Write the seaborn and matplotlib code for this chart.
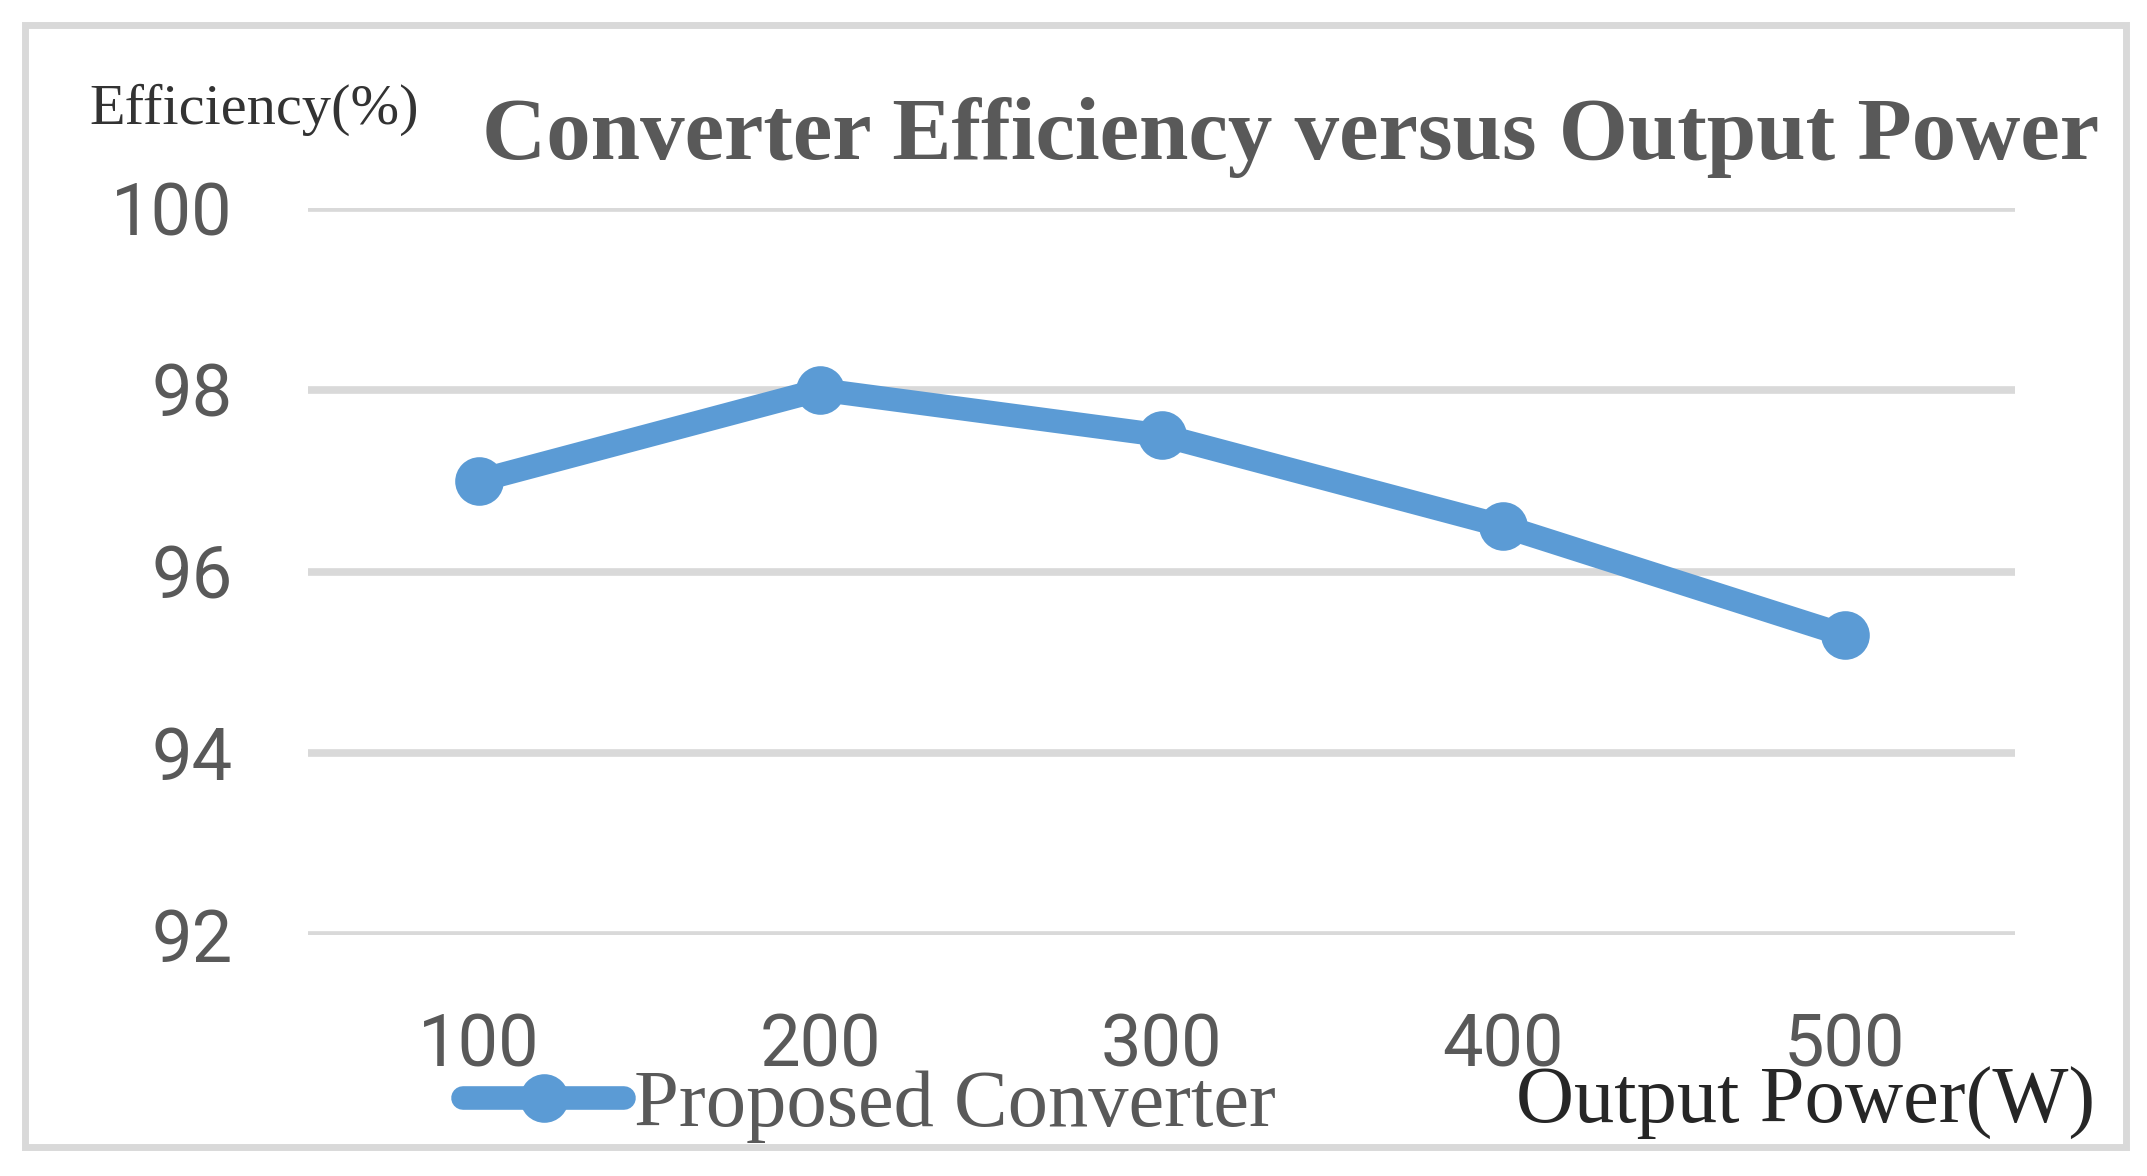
#!/usr/bin/env python3
"""
Converter efficiency versus output power, drawn with seaborn.
Saves the chart as out.png.
"""

import pandas as pd
import seaborn as sns
import matplotlib

matplotlib.use("Agg")
import matplotlib.pyplot as plt
from matplotlib.patches import Rectangle

# Data
output_power = [100, 200, 300, 400, 500]
efficiency = [97.0, 98.0, 97.5, 96.5, 95.3]
y_ticks = [92, 94, 96, 98, 100]
series_name = "Proposed Converter"

LINE_BLUE = "#5B9BD5"
GRID_GRAY = "#D9D9D9"
TEXT_GRAY = "#595959"


def main():
    sns.set_theme(style="white")
    plt.rcParams["font.family"] = ["Roboto", "DejaVu Sans"]

    df = pd.DataFrame({"power": output_power, "eff": efficiency, "series": series_name})

    fig = plt.figure(figsize=(21.47, 11.76), dpi=100)
    ax = fig.add_axes([0.1434, 0.205, 0.7953, 0.618])

    sns.lineplot(
        data=df, x="power", y="eff", hue="series", palette=[LINE_BLUE],
        marker="o", markersize=35, linewidth=17, markeredgewidth=0,
        solid_capstyle="round", ax=ax, clip_on=False, zorder=3,
    )

    ax.set_xlim(50, 550)
    ax.set_ylim(92, 100)
    ax.set_xticks(output_power)
    ax.set_yticks(y_ticks)
    ax.grid(axis="y", color=GRID_GRAY, linewidth=5.5)
    ax.grid(axis="x", visible=False)
    for spine in ax.spines.values():
        spine.set_visible(False)
    ax.tick_params(axis="both", length=0, labelsize=52, labelcolor=TEXT_GRAY)
    ax.tick_params(axis="y", pad=54)
    ax.tick_params(axis="x", pad=56)
    ax.set_xlabel("")
    ax.set_ylabel("")

    # Legend at the bottom left
    leg = ax.legend(
        loc="lower left", bbox_to_anchor=(0.197, -0.006), bbox_transform=fig.transFigure,
        frameon=False, handlelength=2.0, handletextpad=0.12, borderpad=0,
        prop={"family": "Liberation Serif", "size": 58},
    )
    for text in leg.get_texts():
        text.set_color(TEXT_GRAY)

    # Title and axis captions
    fig.text(0.601, 0.865, "Converter Efficiency versus Output Power",
             ha="center", va="baseline", fontsize=64, fontweight="bold",
             family="Liberation Serif", color=TEXT_GRAY)
    fig.text(0.0414, 0.895, "Efficiency(%)", ha="left", va="baseline",
             fontsize=42, family="Liberation Serif", color="#333333")
    fig.text(0.9757, 0.045, "Output Power(W)", ha="right", va="baseline",
             fontsize=58, family="Liberation Serif", color="#262626")

    # Outer chart border
    fig.patches.append(Rectangle((0.0116, 0.0247), 0.9784, 0.9543,
                                 transform=fig.transFigure, fill=False,
                                 edgecolor=GRID_GRAY, linewidth=5))

    fig.savefig("out.png", dpi=100)
    plt.close(fig)


if __name__ == "__main__":
    main()
